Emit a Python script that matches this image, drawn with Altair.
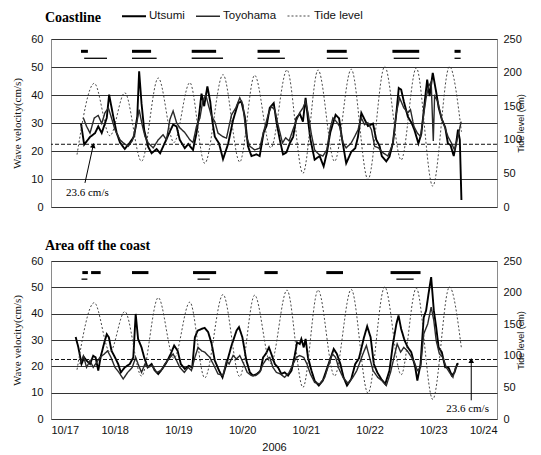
import altair as alt
import pandas as pd

SERIES = ["Utsumi", "Toyohama", "Tide level"]

# time = hours since 10/17 00:00 (2006); velocity in cm/s; tide in cm
tide_h = [9.8, 16.3, 22.2, 27.8, 34.1, 40.4, 46.3, 52.3, 57.9, 64.8, 71.1, 76.7, 82.8,
          88.9, 94.9, 100.6, 106.8, 113.1, 119.4, 125.7, 131.9, 137.6, 143.8, 150.1, 154.6]
tide_cm = [78, 184, 106, 170, 68, 192, 96, 185, 65, 197, 67, 196, 88,
           204, 50, 204, 68, 205, 41, 209, 70, 207, 31, 209, 112]

# ---- Coastline ----
c_uts_h = [11.3, 12.5, 14.7, 16.6, 17.8, 19.1, 21.0, 21.9, 23.4, 24.7, 26.0, 27.8, 29.7, 31.3, 32.5,
           33.2, 34.1, 35.1, 36.6, 37.9, 39.8, 41.1, 42.9, 44.8, 46.0, 47.3, 48.5, 50.4, 51.7, 53.5,
           54.8, 55.7, 56.7, 57.7, 58.9, 60.0, 60.8, 61.7, 63.3, 64.8, 66.7, 68.6, 70.5, 71.7, 73.0,
           74.2, 75.5, 77.4, 78.6, 80.1, 81.2, 82.4, 83.9, 84.9, 86.2, 87.4, 88.7, 89.9, 91.2, 92.4,
           93.7, 94.9, 95.9, 96.8, 97.7, 99.3, 101.2, 102.7, 103.9, 105.2, 106.2, 107.2, 108.5, 109.7,
           111.2, 113.1, 114.6, 115.6, 116.9, 118.1, 119.4, 121.3, 122.5, 123.8, 124.6, 126.3, 127.5,
           128.8, 130.1, 131.0, 131.9, 132.9, 134.4, 135.9, 136.9, 138.4, 139.5, 140.7, 141.7, 142.6,
           143.8, 145.1, 146.0, 147.2, 148.5, 149.5, 150.5, 151.7, 152.6, 153.3, 154.0, 154.6]
c_uts_v = [29.8, 22.3, 25.0, 26.4, 28.8, 26.4, 31.8, 40.1, 32.6, 26.6, 23.0, 20.7, 23.0, 25.2, 32.3,
           48.5, 37.0, 27.5, 21.5, 19.2, 20.7, 19.2, 23.0, 27.0, 29.4, 28.8, 24.0, 21.0, 22.5, 20.4,
           26.4, 32.3, 40.5, 36.0, 43.1, 37.5, 30.5, 25.1, 22.7, 17.1, 22.5, 31.1, 37.1, 37.7, 32.3,
           21.7, 18.2, 18.8, 18.2, 26.6, 29.0, 35.4, 37.1, 30.5, 24.0, 18.8, 19.5, 22.7, 25.0, 31.7,
           33.3, 30.5, 39.0, 31.3, 24.3, 16.9, 18.2, 14.5, 19.3, 26.6, 29.8, 32.9, 31.7, 23.9,
           15.6, 19.7, 21.0, 24.9, 33.6, 31.3, 28.9, 29.8, 24.1, 21.7, 18.2, 16.3, 18.0,
           22.9, 33.6, 42.5, 41.9, 37.7, 32.3, 29.9, 27.5, 22.7, 26.2, 36.9, 45.5, 39.6,
           47.9, 41.0, 35.6, 31.4, 28.4, 22.7, 22.1, 18.2, 22.7, 27.6, 24.0, 2.5]
c_toy_h = [12.2, 13.4, 14.7, 16.3, 17.8, 19.1, 20.3, 21.6, 22.6, 24.1, 26.0, 27.2, 29.1, 30.6, 32.2,
           33.2, 34.3, 35.4, 36.6, 38.5, 40.4, 42.2, 43.5, 44.8, 46.0, 47.3, 48.5, 50.4, 52.3, 53.5,
           54.8, 56.1, 57.2, 58.3, 59.4, 60.5, 61.7, 62.9, 64.6, 66.1, 68.0, 69.6, 71.1, 72.3, 73.6,
           74.9, 76.7, 78.6, 80.1, 81.8, 83.0, 84.3, 85.5, 87.2, 88.4, 89.7, 91.2, 92.4, 93.7, 94.9,
           95.9, 96.8, 98.1, 99.3, 100.9, 102.4, 103.9, 105.2, 106.2, 107.5, 108.7, 110.0, 111.2,
           113.1, 114.4, 115.6, 116.9, 118.1, 119.4, 120.7, 121.9, 123.4, 125.0, 126.9, 128.8,
           130.1, 131.3, 132.9, 134.4, 135.4, 136.7, 138.0, 139.2, 140.1, 141.3, 142.2, 143.2,
           144.0, 144.5, 145.7, 147.0, 148.2, 149.5, 150.8, 152.0, 153.3, 154.5]
c_toy_v = [31.8, 28.8, 26.4, 31.8, 32.7, 29.8, 33.6, 35.4, 32.4, 27.6, 24.0, 22.9, 21.7, 23.6, 29.5,
           34.8, 29.5, 25.2, 22.9, 21.1, 24.0, 25.8, 24.0, 31.3, 34.3, 30.1, 28.3, 26.6, 24.0, 23.0,
           28.8, 31.8, 38.0, 40.0, 36.0, 32.3, 30.5, 26.4, 25.2, 24.6, 32.9, 35.4, 39.0, 36.5, 25.2,
           21.7, 20.4, 21.0, 27.0, 32.9, 35.9, 34.7, 29.4, 22.9, 24.7, 23.6, 27.8, 30.8, 33.7, 35.4,
           37.7, 33.7, 25.9, 20.4, 18.8, 18.2, 20.4, 28.3, 31.8, 30.5, 28.8, 22.9, 21.1,
           22.9, 25.2, 27.5, 31.8, 29.4, 30.1, 27.6, 21.7, 21.1, 19.4, 18.2, 22.7,
           33.6, 39.0, 35.4, 33.6, 34.8, 28.8, 26.4, 25.2, 31.3, 39.0, 43.0, 44.7,
           23.6, 39.6, 37.7, 32.0, 29.0, 25.2, 22.9, 20.4, 25.2, 30.5]

# ---- Area off the coast ----
o_uts_h = [9.3, 10.3, 11.5, 12.5, 13.4, 14.7, 15.9, 16.8, 17.8, 18.8, 20.1, 21.0, 21.8, 22.8, 24.1,
           25.3, 26.3, 27.8, 29.7, 31.0, 31.9, 32.8, 34.1, 35.1, 36.4, 37.9, 39.1, 40.4, 41.9, 43.5,
           45.1, 46.4, 47.7, 48.9, 50.4, 51.9, 53.2, 54.2, 55.2, 56.7, 57.9, 59.2, 60.5, 61.7, 63.3,
           64.6, 66.1, 68.0, 69.9, 70.8, 72.1, 73.6, 74.9, 76.1, 77.6, 78.9, 79.9, 80.9, 82.1, 83.0,
           84.3, 85.5, 86.8, 88.0, 89.3, 90.6, 91.8, 92.7, 93.7, 94.3, 95.2, 95.9, 96.8, 98.1, 99.3,
           100.9, 102.4, 103.7, 105.2, 106.5, 107.7, 109.0, 110.2, 111.5, 113.1, 114.6, 116.0, 117.9,
           119.1, 120.4, 121.6, 122.9, 124.4, 125.9, 127.5, 128.8, 130.1, 130.9, 131.9, 133.2, 134.4,
           135.7, 137.2, 138.0, 139.2, 140.4, 141.3, 142.2, 143.2, 144.2, 145.1, 146.0, 147.2, 148.5,
           149.7, 151.0, 152.0, 153.0, 153.5]
o_uts_v = [31.1, 27.2, 20.9, 23.4, 22.2, 20.9, 24.0, 23.4, 18.4, 24.0, 29.1, 32.2, 31.0, 25.9, 23.4,
           20.9, 17.7, 19.6, 20.9, 23.4, 39.9, 30.4, 27.2, 23.4, 19.6, 20.9, 18.4, 17.1, 19.0, 21.5,
           24.7, 27.9, 25.9, 20.9, 19.0, 20.2, 19.6, 31.0, 33.5, 34.2, 34.6, 33.0, 28.6, 22.2, 18.4,
           15.8, 20.9, 27.9, 33.6, 34.9, 31.0, 22.2, 17.7, 16.5, 17.1, 18.4, 23.4, 24.7, 27.2, 24.7,
           20.9, 19.6, 17.1, 17.7, 16.5, 18.4, 24.1, 29.1, 28.5, 30.4, 27.2, 30.4, 23.4, 18.4, 14.6,
           12.7, 14.6, 18.4, 22.8, 26.6, 24.7, 20.9, 15.8, 12.7, 15.2, 20.9, 23.0, 31.0,
           35.2, 31.0, 20.9, 17.7, 15.2, 13.3, 18.4, 28.5, 36.1, 39.3, 34.2, 29.8, 27.2,
           25.4, 19.6, 14.6, 20.9, 38.6, 41.2, 47.5, 53.9, 41.2, 34.8, 27.2, 25.4, 19.6,
           19.6, 16.5, 17.7, 20.9, 21.0]
o_toy_h = [10.9, 12.2, 13.4, 14.7, 15.9, 17.2, 18.4, 20.1, 21.3, 22.6, 24.1, 25.6, 27.2, 28.9, 30.6,
           31.9, 32.8, 34.1, 35.4, 36.6, 38.1, 39.8, 41.4, 42.9, 44.4, 46.0, 47.3, 48.5, 50.2, 51.7,
           52.9, 54.2, 55.4, 56.7, 57.9, 59.8, 61.1, 62.9, 64.8, 66.1, 67.1, 68.6, 69.9, 71.1, 72.6,
           73.9, 75.5, 77.1, 78.6, 79.9, 81.2, 82.4, 83.6, 84.9, 86.4, 88.0, 89.7, 91.2, 92.4, 93.7,
           95.2, 96.4, 97.7, 99.3, 101.2, 103.1, 104.7, 106.0, 107.2, 108.5, 110.0, 111.9, 113.7,
           115.2, 117.5, 118.8, 120.0, 121.3, 123.1, 124.6, 126.3, 127.9, 129.2, 130.4, 131.7, 132.9,
           134.2, 135.4, 136.9, 138.0, 139.2, 140.4, 141.9, 143.2, 144.2, 145.1, 146.3, 147.6, 148.9,
           150.1, 151.4, 152.4, 153.2]
o_toy_v = [20.9, 24.0, 19.6, 22.2, 19.6, 21.5, 23.4, 24.7, 25.9, 23.4, 19.6, 17.7, 15.2, 17.7, 19.6,
           23.4, 20.9, 17.7, 20.9, 19.6, 20.3, 17.7, 18.4, 20.9, 22.8, 24.7, 22.2, 19.6, 17.7, 19.6,
           18.4, 23.4, 27.2, 25.9, 25.4, 23.4, 20.9, 17.1, 16.5, 22.2, 20.9, 24.1, 22.8, 24.1, 20.9,
           17.7, 16.5, 16.5, 17.7, 20.9, 22.8, 23.4, 19.6, 17.7, 17.1, 15.8, 17.7, 20.9, 23.4, 24.1,
           23.4, 20.9, 17.1, 13.9, 13.3, 15.8, 20.9, 24.7, 23.4, 19.0, 15.8, 13.5, 15.8,
           18.4, 24.7, 27.9, 23.4, 18.4, 15.8, 14.6, 12.7, 17.7, 23.4, 28.5, 25.4, 27.2,
           25.9, 24.1, 21.5, 18.4, 19.6, 32.3, 36.1, 42.5, 37.4, 29.8, 24.7, 23.4, 19.6,
           17.7, 15.8, 19.6, 20.3]

# top bars (periods) : thick = Utsumi, thin = Toyohama
c_thick_start = [11.3, 30.5, 53.0, 77.8, 103.9, 128.6, 152.0]
c_thick_end = [13.9, 37.7, 62.2, 86.2, 111.4, 138.7, 154.3]
c_thin_start = [12.5, 30.5, 53.0, 77.8, 103.9, 129.1, 152.0]
c_thin_end = [21.1, 39.8, 64.8, 88.1, 111.8, 138.7, 154.3]
o_thick_start = [11.8, 15.1, 30.5, 53.5, 80.4, 103.7, 127.9]
o_thick_end = [13.9, 18.7, 36.7, 62.2, 85.4, 110.0, 139.2]
o_thin_start = [11.5, 55.2, 130.1]
o_thin_end = [13.7, 59.8, 136.6]
bar_level_thick = 55.6
bar_level_thin = 53.1

c_threshold = 22.4
o_threshold = 22.6
label_text = "23.6 cm/s"
c_arrow_h = [12.8, 15.9]
c_arrow_v = [8.6, 22.0]
c_label_pos = (13.7, 4.9)
o_arrow_h = [158.3, 158.3]
o_arrow_v = [7.1, 22.2]
o_label_pos = (156.9, 3.8)

day_ticks = [0, 24, 48, 72, 96, 120, 144, 168]

SERIF = "Liberation Serif"
SANS = "Liberation Sans"


def panel(title, uts_h, uts_v, toy_h, toy_v, thick_s, thick_e, thin_s, thin_e,
          thr, arr_h, arr_v, lab_pos, arrow_angle, height, bottom, show_legend, title_offset):
    vel = pd.DataFrame({
        "h": uts_h + toy_h,
        "v": uts_v + toy_v,
        "series": ["Utsumi"] * len(uts_h) + ["Toyohama"] * len(toy_h),
    })
    tide = pd.DataFrame({"h": tide_h, "cm": tide_cm, "series": "Tide level"})

    if show_legend:
        leg = alt.Legend(orient="none", legendX=76, legendY=-30, direction="horizontal",
                         title=None, symbolType="M-2,0L2,0", symbolSize=144,
                         labelFont=SANS, labelFontSize=11.5, labelColor="#111",
                         columnPadding=8, labelOffset=8)
    else:
        leg = None

    color = alt.Color("series:N", scale=alt.Scale(domain=SERIES, range=["#000000", "#2a2a2a", "#333333"]), legend=leg)
    dash = alt.StrokeDash("series:N", scale=alt.Scale(domain=SERIES, range=[[1, 0], [1, 0], [2, 2]]), legend=leg)
    width = alt.StrokeWidth("series:N", scale=alt.Scale(domain=SERIES, range=[1.9, 0.9, 1.2]), legend=leg)

    if bottom:
        xaxis = alt.Axis(values=day_ticks, labelExpr="'10/' + (17 + datum.value / 24)",
                         grid=False, ticks=False, domain=False, labelPadding=5,
                         labelFont=SANS, labelFontSize=11, labelColor="#111",
                         title="2006", titleFont=SANS, titleFontSize=11, titleFontWeight="normal",
                         titlePadding=6, titleColor="#111")
    else:
        xaxis = alt.Axis(values=day_ticks, labels=False, ticks=False, domain=False, grid=False, title=None)

    x = alt.X("h:Q", scale=alt.Scale(domain=[0, 168], nice=False), axis=xaxis)
    x2 = alt.X2("h2:Q")
    yaxis = alt.Axis(values=[0, 10, 20, 30, 40, 50, 60], grid=True, gridColor="#333333", gridWidth=1,
                     ticks=False, domain=False, labelPadding=8, labelFont=SANS, labelFontSize=11,
                     labelColor="#111", title="Wave velocity(cm/s)", titleFont=SERIF, titleFontSize=11,
                     titleFontWeight="normal", titlePadding=8, titleColor="#111")
    y = alt.Y("v:Q", scale=alt.Scale(domain=[0, 60], nice=False), axis=yaxis)

    lines = alt.Chart(vel).mark_line().encode(
        x=x, y=y, color=color, strokeDash=dash, strokeWidth=width, detail="series:N")

    thick = alt.Chart(pd.DataFrame({"h": thick_s, "h2": thick_e, "v": bar_level_thick})).mark_rule(
        color="#000", strokeWidth=3).encode(x=x, x2=x2, y=y)
    thin = alt.Chart(pd.DataFrame({"h": thin_s, "h2": thin_e, "v": bar_level_thin})).mark_rule(
        color="#111", strokeWidth=1.4).encode(x=x, x2=x2, y=y)

    thr_rule = alt.Chart(pd.DataFrame({"v": [thr]})).mark_rule(
        color="#111", strokeDash=[4, 2], strokeWidth=1).encode(y=y)

    arr = pd.DataFrame({"h": arr_h, "v": arr_v, "k": [0, 1]})
    arrow_line = alt.Chart(arr).mark_line(color="#000", strokeWidth=1).encode(
        x=x, y=y, order="k:Q")
    arrow_head = alt.Chart(arr.iloc[[1]]).mark_point(
        shape="triangle-up", filled=True, size=32, color="#000", opacity=1, angle=arrow_angle).encode(
        x=x, y=y)
    lab = alt.Chart(pd.DataFrame({"h": [lab_pos[0]], "v": [lab_pos[1]], "t": [label_text]})).mark_text(
        font=SERIF, fontSize=11, color="#000", align="center", baseline="middle").encode(
        x=x, y=y, text="t:N")

    vel_layer = alt.layer(lines, thick, thin, thr_rule, arrow_line, arrow_head, lab)

    tide_line = alt.Chart(tide).mark_line(interpolate="monotone").encode(
        x=x,
        y=alt.Y("cm:Q", scale=alt.Scale(domain=[0, 250], nice=False),
                axis=alt.Axis(orient="right", values=[0, 50, 100, 150, 200, 250], grid=False,
                              ticks=False, domain=False, labelPadding=6, labelFont=SANS,
                              labelFontSize=11, labelColor="#111", title="Tide level (cm)",
                              titleFont=SANS, titleFontSize=9, titleFontWeight="normal",
                              titleAngle=270, titlePadding=4, titleColor="#111")),
        color=color, strokeDash=dash, strokeWidth=width)

    return alt.layer(vel_layer, tide_line).resolve_scale(y="independent").properties(
        width=446, height=height,
        title=alt.TitleParams(title, font=SERIF, fontSize=14, fontWeight="bold", anchor="start",
                              frame="group", dx=-6, offset=title_offset, color="#000"))


top = panel("Coastline", c_uts_h, c_uts_v, c_toy_h, c_toy_v, c_thick_start, c_thick_end,
            c_thin_start, c_thin_end, c_threshold, c_arrow_h, c_arrow_v, c_label_pos, 12, 168,
            False, True, -16)
bot = panel("Area off the coast", o_uts_h, o_uts_v, o_toy_h, o_toy_v, o_thick_start, o_thick_end,
            o_thin_start, o_thin_end, o_threshold, o_arrow_h, o_arrow_v, o_label_pos, 0, 158,
            True, False, 2)

chart = alt.vconcat(top, bot, spacing=25).resolve_scale(
    color="independent", strokeDash="independent", strokeWidth="independent"
).resolve_legend(
    color="independent", strokeDash="independent", strokeWidth="independent"
).properties(
    padding={"left": 3, "right": 3, "top": 0, "bottom": 0}, background="white"
).configure_view(stroke="#8a8a8a", strokeWidth=1)

chart.save("out.html", embed_options={"renderer": "svg", "actions": False})
